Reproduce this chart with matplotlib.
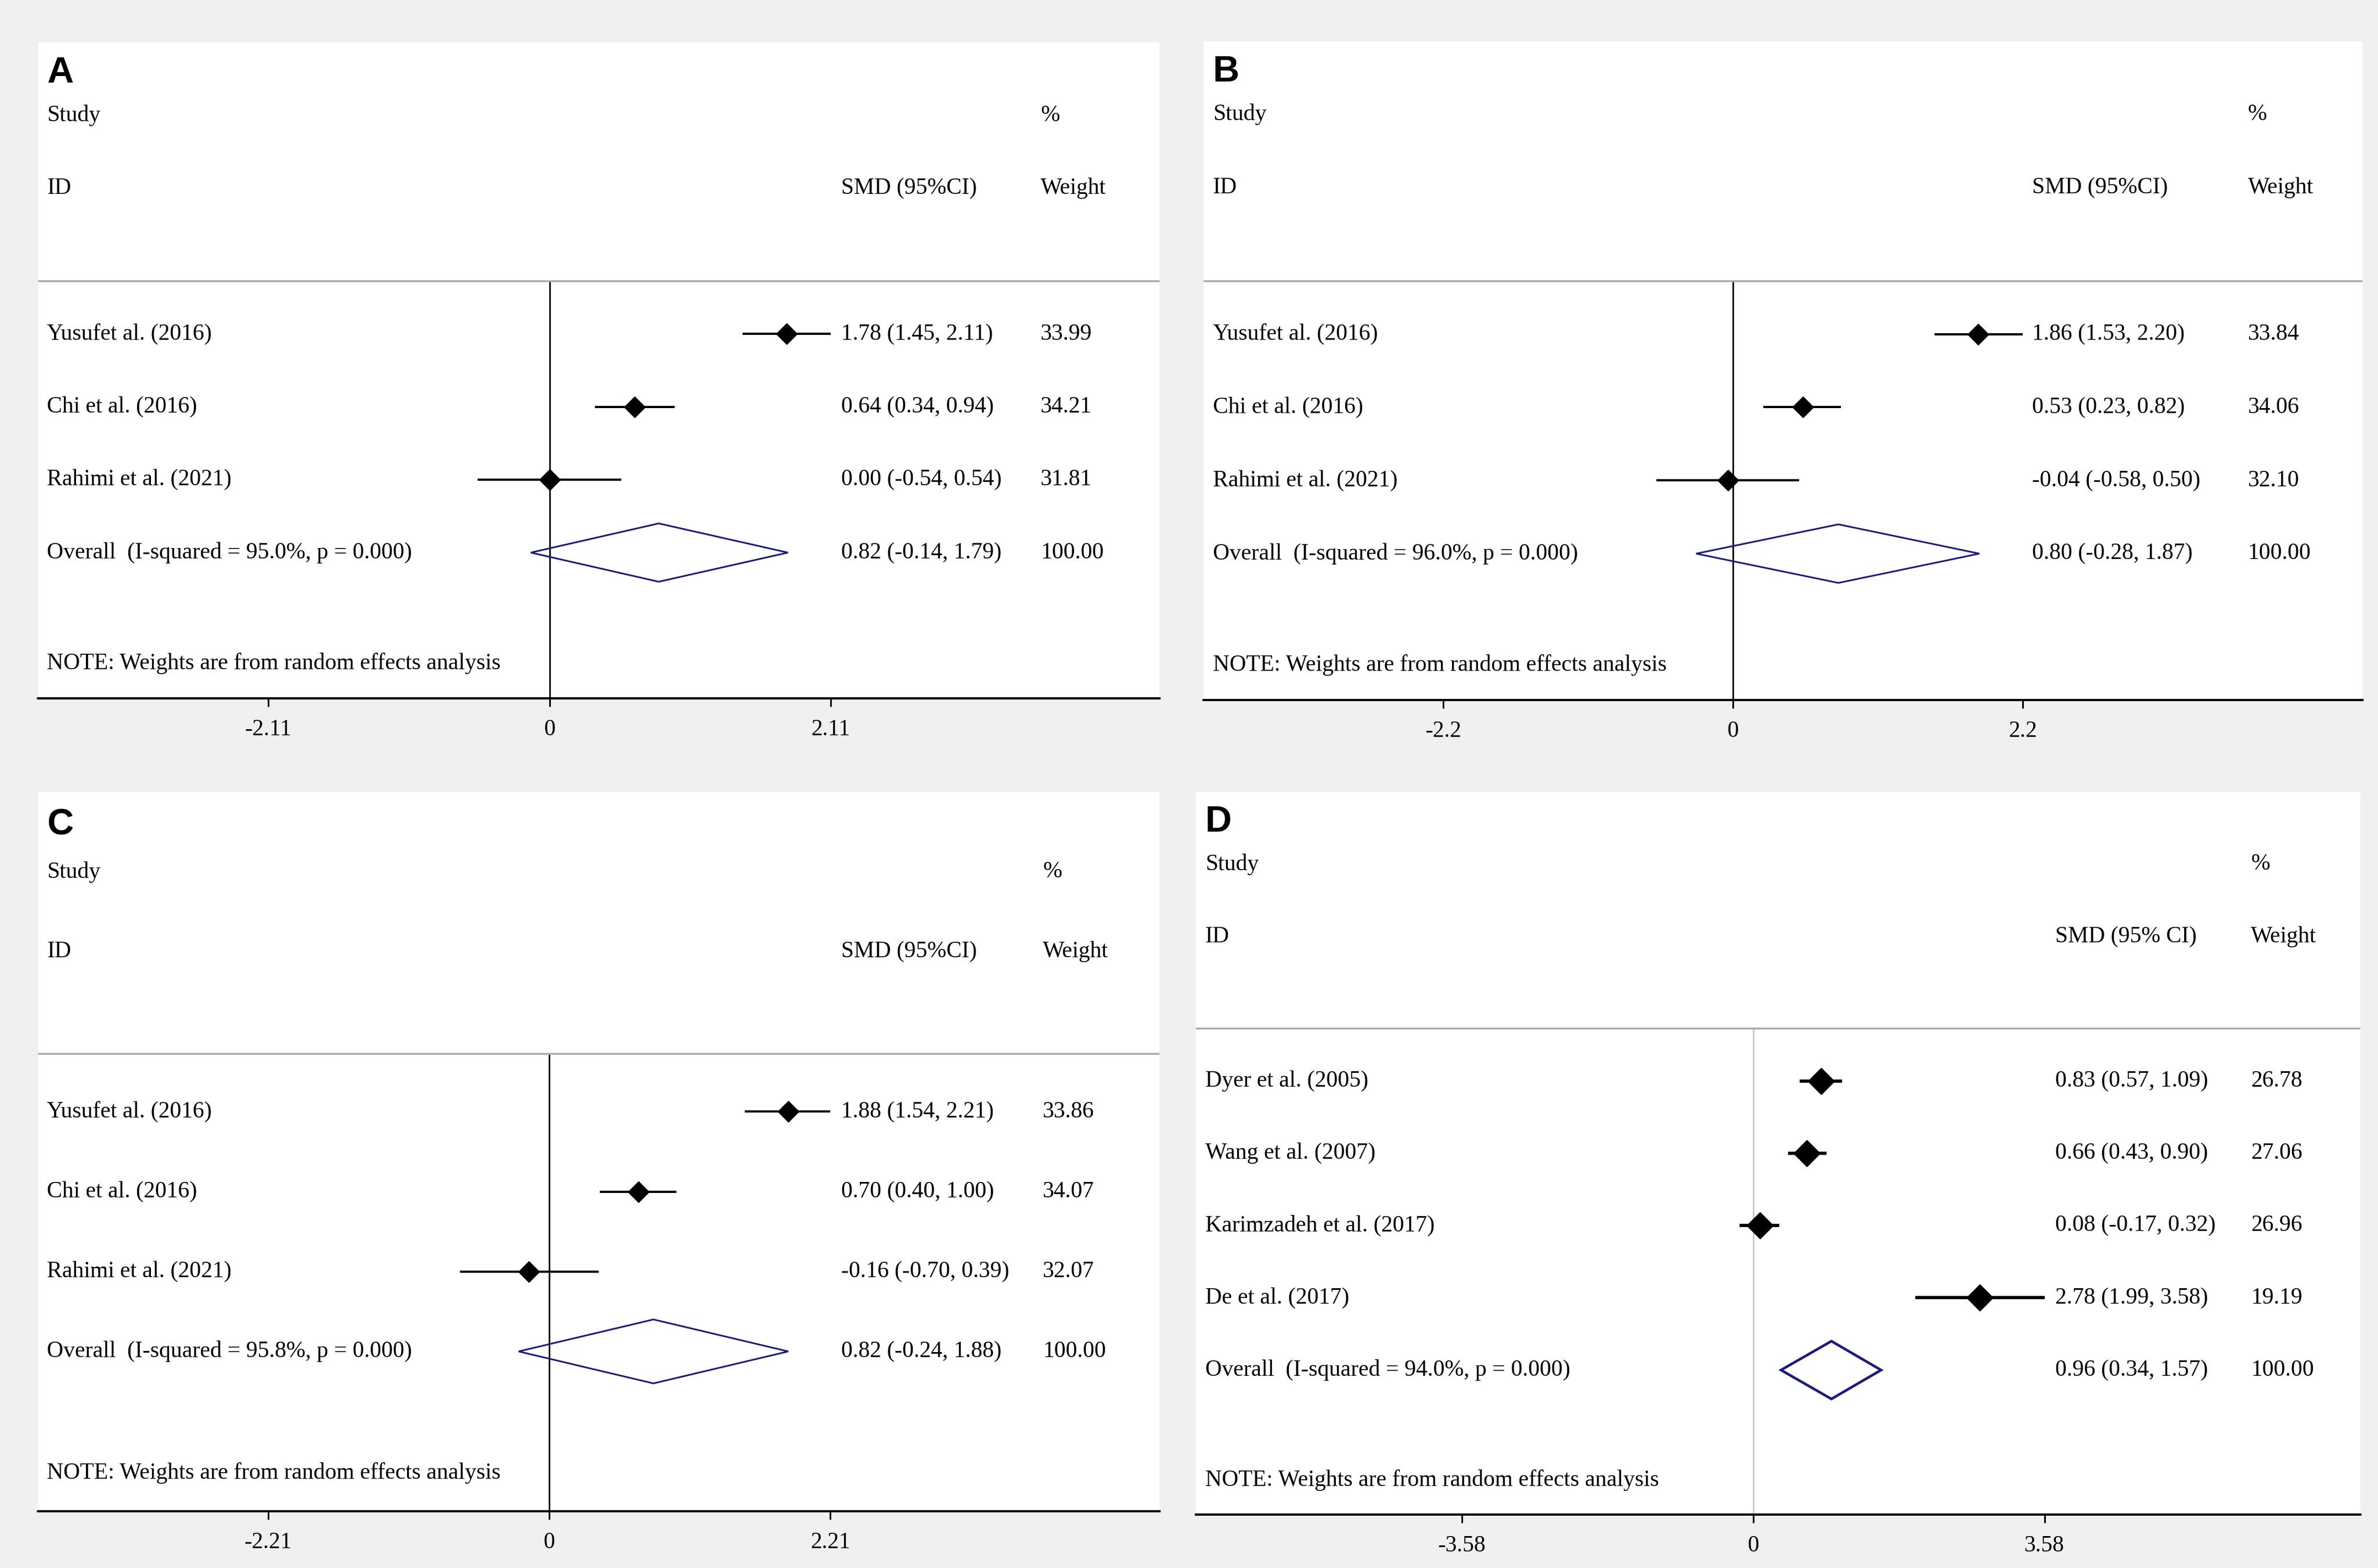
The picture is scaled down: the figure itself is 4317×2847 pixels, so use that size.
import matplotlib
matplotlib.use("Agg")
import matplotlib.pyplot as plt

SERIF = ["Liberation Serif", "DejaVu Serif"]
SANS = ["Liberation Sans", "DejaVu Sans"]
NAVY = "#1c1c78"

# ---- data -----------------------------------------------------------
a_studies = ["Yusufet al. (2016)", "Chi et al. (2016)", "Rahimi et al. (2021)"]
a_smd = [1.78, 0.64, 0.00]
a_lo = [1.45, 0.34, -0.54]
a_hi = [2.11, 0.94, 0.54]
a_wt = [33.99, 34.21, 31.81]
a_overall = [0.82, -0.14, 1.79]
a_isq = "95.0%"
a_tick = 2.11

b_studies = ["Yusufet al. (2016)", "Chi et al. (2016)", "Rahimi et al. (2021)"]
b_smd = [1.86, 0.53, -0.04]
b_lo = [1.53, 0.23, -0.58]
b_hi = [2.20, 0.82, 0.50]
b_wt = [33.84, 34.06, 32.10]
b_overall = [0.80, -0.28, 1.87]
b_isq = "96.0%"
b_tick = 2.2

c_studies = ["Yusufet al. (2016)", "Chi et al. (2016)", "Rahimi et al. (2021)"]
c_smd = [1.88, 0.70, -0.16]
c_lo = [1.54, 0.40, -0.70]
c_hi = [2.21, 1.00, 0.39]
c_wt = [33.86, 34.07, 32.07]
c_overall = [0.82, -0.24, 1.88]
c_isq = "95.8%"
c_tick = 2.21

d_studies = ["Dyer et al. (2005)", "Wang et al. (2007)", "Karimzadeh et al. (2017)", "De et al. (2017)"]
d_smd = [0.83, 0.66, 0.08, 2.78]
d_lo = [0.57, 0.43, -0.17, 1.99]
d_hi = [1.09, 0.90, 0.32, 3.58]
d_wt = [26.78, 27.06, 26.96, 19.19]
d_overall = [0.96, 0.34, 1.57]
d_isq = "94.0%"
d_tick = 3.58

W, H = 4317, 2847


def fmt_ci(est, lo, hi):
    return f"{est:.2f} ({lo:.2f}, {hi:.2f})"


def forest(letter, box, xlim, studies, smd, lo, hi, wt, overall, isq, tick,
           smd_x, wt_x, smd_head, ms=19, ci_lw=2.9, dia_lw=2.2, zero_col="black"):
    x0, y0, x1, y1 = box
    ax = fig.add_axes([x0 / W, 1 - y1 / H, (x1 - x0) / W, (y1 - y0) / H])
    ax.set_facecolor("white")
    n = len(studies) + 1
    ax.set_xlim(*xlim)
    ax.set_ylim(n + 1, -4)
    for s in ["top", "left", "right"]:
        ax.spines[s].set_visible(False)
    ax.spines["bottom"].set_linewidth(2.9)
    ax.set_yticks([])
    ax.set_xticks([-tick, 0, tick])
    ax.set_xticklabels([f"-{tick:g}", "0", f"{tick:g}"], family=SERIF, fontsize=30)
    ax.tick_params(axis="x", length=11, width=2.2, pad=16)

    tr = ax.get_yaxis_transform()
    tx = dict(transform=tr, family=SERIF, fontsize=30, va="center", ha="left")
    left = 0.008

    ax.text(left, -3.58, letter, transform=tr, family=SANS, fontsize=48,
            fontweight="bold", va="center", ha="left")
    ax.text(left, -3, "Study", **tx)
    ax.text(wt_x, -3, "%", **tx)
    ax.text(left, -2, "ID", **tx)
    ax.text(smd_x, -2, smd_head, **tx)
    ax.text(wt_x, -2, "Weight", **tx)
    ax.axhline(-0.73, color="#a9a9a9", lw=2.4)

    ax.vlines(0, -0.73, n + 1, color=zero_col, lw=2.0, zorder=1)

    rows = list(range(len(studies)))
    ax.hlines(rows, lo, hi, color="black", lw=ci_lw, zorder=3)
    ax.plot(smd, rows, "D", ms=ms, color="black", zorder=4)
    for r, name, e, l, h, w in zip(rows, studies, smd, lo, hi, wt):
        ax.text(left, r, name, **tx)
        ax.text(smd_x, r, fmt_ci(e, l, h), **tx)
        ax.text(wt_x, r, f"{w:.2f}", **tx)

    r = len(studies)
    est, olo, ohi = overall
    ax.fill([olo, est, ohi, est, olo], [r, r - 0.4, r, r + 0.4, r], fill=False,
            edgecolor=NAVY, lw=dia_lw, zorder=3)
    ax.text(left, r, f"Overall  (I-squared = {isq}, p = 0.000)", **tx)
    ax.text(smd_x, r, fmt_ci(est, olo, ohi), **tx)
    ax.text(wt_x, r, "100.00", **tx)

    ax.text(left, n + 0.52, "NOTE: Weights are from random effects analysis", **tx)
    return ax


fig = plt.figure(figsize=(W / 100, H / 100), dpi=100, facecolor="#f0f0f0")

forest("A", (69, 77, 2105, 1268), (-3.84, 4.58), a_studies, a_smd, a_lo, a_hi,
       a_wt, a_overall, a_isq, a_tick, 0.716, 0.894, "SMD (95%CI)")
forest("B", (2185, 75, 4289, 1271), (-4.02, 4.78), b_studies, b_smd, b_lo, b_hi,
       b_wt, b_overall, b_isq, b_tick, 0.715, 0.901, "SMD (95%CI)")
forest("C", (69, 1438, 2105, 2744), (-4.02, 4.80), c_studies, c_smd, c_lo, c_hi,
       c_wt, c_overall, c_isq, c_tick, 0.716, 0.896, "SMD (95%CI)")
forest("D", (2171, 1438, 4285, 2750), (-6.85, 7.46), d_studies, d_smd, d_lo, d_hi,
       d_wt, d_overall, d_isq, d_tick, 0.738, 0.906, "SMD (95% CI)",
       ms=24, ci_lw=4.2, dia_lw=3.4, zero_col="#c8c8c8")

fig.savefig("out.png", dpi=100, facecolor=fig.get_facecolor())
